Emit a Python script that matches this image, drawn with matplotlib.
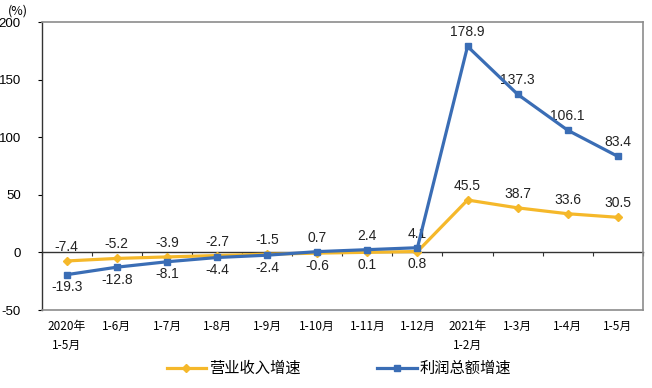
import matplotlib
matplotlib.use("Agg")
import matplotlib.pyplot as plt
import numpy as np

plt.rcParams['font.family'] = ['Liberation Sans', 'Noto Sans CJK SC', 'DejaVu Sans']

categories = ["2020年\n1-5月", "1-6月", "1-7月", "1-8月", "1-9月", "1-10月", "1-11月",
              "1-12月", "2021年\n1-2月", "1-3月", "1-4月", "1-5月"]
revenue = [-7.4, -5.2, -3.9, -2.7, -1.5, -0.6, 0.1, 0.8, 45.5, 38.7, 33.6, 30.5]
profit = [-19.3, -12.8, -8.1, -4.4, -2.4, 0.7, 2.4, 4.1, 178.9, 137.3, 106.1, 83.4]
yticks = [-50, 0, 50, 100, 150, 200]
series_names = ["营业收入增速", "利润总额增速"]

c_rev = "#F5B82A"
c_pro = "#3A6DB5"

fig = plt.figure(figsize=(6.52, 3.88), dpi=100)
ax = fig.add_axes([0.064, 0.201, 0.922, 0.742])

x = np.arange(len(categories))
ax.plot(x, revenue, color=c_rev, lw=2.3, marker="D", ms=4.2, label=series_names[0], zorder=3)
ax.plot(x, profit, color=c_pro, lw=2.3, marker="s", ms=4.2, label=series_names[1], zorder=4)

ymin, ymax = -50, 200
ax.set_xlim(-0.5, len(categories) - 0.5)
ax.set_ylim(ymin, ymax)
ax.set_yticks(yticks)
ax.set_yticklabels([str(v) for v in yticks], fontsize=9.5, family=['Liberation Sans'])
ax.tick_params(axis='y', length=3, width=0.8, direction='out', pad=12)

ax.set_xticks(x)
ax.set_xticklabels(categories, fontsize=8.5, family=['Noto Sans CJK SC'], linespacing=1.6)
ax.tick_params(axis='x', length=0, pad=7)

for s in ['top', 'right', 'bottom']:
    ax.spines[s].set_color('#8C8C8C')
    ax.spines[s].set_linewidth(1.2)
ax.spines['left'].set_color('#333333')
ax.spines['left'].set_linewidth(1.0)

# zero axis line with category boundary ticks
sec = ax.secondary_xaxis((0 - ymin) / (ymax - ymin))
sec.set_xticks(np.arange(len(categories) + 1) - 0.5)
sec.set_xticklabels([])
sec.tick_params(axis='x', length=3, width=0.8, direction='out', color='#333333')
sec.spines['bottom'].set_color('#333333')
sec.spines['bottom'].set_linewidth(1.0)

lab_kw = dict(textcoords='offset points', ha='center', fontsize=10, color='#222222',
              family=['Liberation Sans'])
for i in range(len(categories)):
    r, p = revenue[i], profit[i]
    if r >= p:
        ax.annotate(f"{r}", (i, r), xytext=(0, 5), va='bottom', **lab_kw)
        ax.annotate(f"{p}", (i, p), xytext=(0, -4), va='top', **lab_kw)
    else:
        ax.annotate(f"{p}", (i, p), xytext=(0, 5), va='bottom', **lab_kw)
        if i < 8:
            ax.annotate(f"{r}", (i, r), xytext=(0, -4), va='top', **lab_kw)
        else:
            ax.annotate(f"{r}", (i, r), xytext=(0, 5), va='bottom', **lab_kw)

fig.text(0.027, 0.972, "(%)", fontsize=9, ha='center', va='center',
         family=['Noto Sans CJK SC'])

leg = fig.legend(loc='center', bbox_to_anchor=(0.52, 0.05), ncol=2, frameon=False,
                 prop={'family': ['Noto Sans CJK SC'], 'size': 11}, columnspacing=5,
                 handlelength=2.6, handletextpad=0.2)

fig.savefig("out.png", dpi=100)
